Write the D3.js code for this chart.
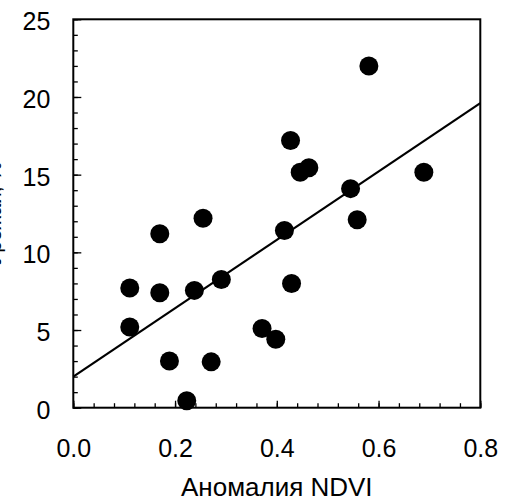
<!DOCTYPE html>
<html>
<head>
<meta charset="utf-8">
<script src="https://cdn.jsdelivr.net/npm/d3@7"></script>
<style>
  body { margin: 0; background: #fff; }
  svg { display: block; }
  text { font-family: Arial, "Liberation Sans", sans-serif; fill: #000; }
</style>
</head>
<body>
<svg id="chart" width="510" height="501"></svg>
<script>
// NDVI anomaly vs. value
const ndvi = [0.111, 0.111, 0.170, 0.170, 0.189, 0.223, 0.238, 0.255, 0.271, 0.291, 0.371,
              0.398, 0.415, 0.427, 0.429, 0.446, 0.463, 0.545, 0.558, 0.581, 0.689];
const values = [5.2, 7.7, 11.2, 7.4, 3.0, 0.45, 7.55, 12.2, 2.95, 8.25, 5.1,
                4.4, 11.4, 17.2, 8.0, 15.15, 15.45, 14.1, 12.1, 22.0, 15.15];
// trend line as drawn
const fitIntercept = 2.0;
const fitSlope = 22.0;

const xTicks = [0.0, 0.2, 0.4, 0.6, 0.8];
const yTicks = [0, 5, 10, 15, 20, 25];
const xTitle = "Аномалия NDVI";
const yTitle = "Урожай, %";

const svg = d3.select("#chart");
const plot = { left: 73.3, right: 480.3, top: 19.3, bottom: 407.7 };

const x = d3.scaleLinear().domain([0, 0.8]).range([plot.left, plot.right]);
const y = d3.scaleLinear().domain([0, 25]).range([plot.bottom, plot.top]);

// minor ticks (inward)
const xMinor = d3.range(0, 0.8001, 0.04);
const yMinor = d3.range(0, 25.001, 1);

svg.append("g")
   .attr("transform", `translate(0,${plot.bottom})`)
   .call(d3.axisBottom(x).tickValues(xMinor).tickSize(-4.5).tickFormat(""))
   .call(g => g.select(".domain").remove())
   .selectAll("line").attr("stroke", "#000").attr("stroke-width", 1.3);

svg.append("g")
   .attr("transform", `translate(${plot.left},0)`)
   .call(d3.axisLeft(y).tickValues(yMinor).tickSize(-4.5).tickFormat(""))
   .call(g => g.select(".domain").remove())
   .selectAll("line").attr("stroke", "#000").attr("stroke-width", 1.3);

// major ticks with labels
const xAxis = svg.append("g")
   .attr("transform", `translate(0,${plot.bottom})`)
   .call(d3.axisBottom(x).tickValues(xTicks).tickSize(-7).tickPadding(0).tickFormat(d3.format(".1f")));
xAxis.select(".domain").remove();
xAxis.selectAll("line").attr("stroke", "#000").attr("stroke-width", 1.3);
xAxis.selectAll("text")
     .attr("y", 49).attr("dy", null)
     .style("font-size", "25px");

const yAxis = svg.append("g")
   .attr("transform", `translate(${plot.left},0)`)
   .call(d3.axisLeft(y).tickValues(yTicks).tickSize(-8).tickFormat(d3.format("d")));
yAxis.select(".domain").remove();
yAxis.selectAll("line").attr("stroke", "#000").attr("stroke-width", 1.3);
yAxis.selectAll("text")
     .attr("x", -23).attr("dy", "0.42em")
     .style("font-size", "25px");

// frame
svg.append("rect")
   .attr("x", plot.left).attr("y", plot.top)
   .attr("width", plot.right - plot.left).attr("height", plot.bottom - plot.top)
   .attr("fill", "none").attr("stroke", "#000").attr("stroke-width", 2);

// trend line
svg.append("line")
   .attr("x1", x(0)).attr("y1", y(fitIntercept))
   .attr("x2", x(0.8)).attr("y2", y(fitIntercept + fitSlope * 0.8))
   .attr("stroke", "#000").attr("stroke-width", 2.2);

// points
svg.append("g")
   .selectAll("circle")
   .data(ndvi.map((d, i) => [d, values[i]]))
   .join("circle")
   .attr("cx", d => x(d[0]))
   .attr("cy", d => y(d[1]))
   .attr("r", 9.5)
   .attr("fill", "#000");

// titles
svg.append("text")
   .attr("x", (plot.left + plot.right) / 2)
   .attr("y", 496)
   .attr("text-anchor", "middle")
   .style("font-size", "26px")
   .text(xTitle);

// y title sits mostly off the left edge, as in the original
svg.append("text")
   .attr("transform", `translate(1,${(plot.top + plot.bottom) / 2}) rotate(-90)`)
   .attr("text-anchor", "middle")
   .style("font-size", "21px")
   .text(yTitle);
</script>
</body>
</html>
